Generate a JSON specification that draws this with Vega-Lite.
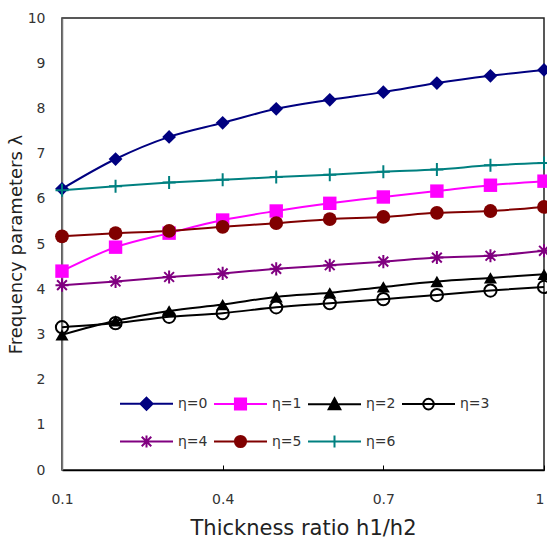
{
  "$schema": "https://vega.github.io/schema/vega-lite/v6.json",
  "width": 482,
  "height": 452,
  "autosize": {"type": "none"},
  "padding": {"left": 62, "top": 18, "right": 3, "bottom": 71},
  "background": "white",
  "config": {
    "font": "DejaVu Sans",
    "view": {"stroke": "#222", "strokeWidth": 1.5},
    "axis": {"grid": false, "labelFont": "DejaVu Sans", "titleFont": "DejaVu Sans", "labelColor": "#333", "titleColor": "#222", "labelFontSize": 14, "titleFontWeight": "normal", "labelFlush": false}
  },
  "data": {"values": [
    {"x": 0.1, "eta": "η=0", "y": 6.22}, {"x": 0.2, "eta": "η=0", "y": 6.88}, {"x": 0.3, "eta": "η=0", "y": 7.37}, {"x": 0.4, "eta": "η=0", "y": 7.68}, {"x": 0.5, "eta": "η=0", "y": 7.99}, {"x": 0.6, "eta": "η=0", "y": 8.19}, {"x": 0.7, "eta": "η=0", "y": 8.36}, {"x": 0.8, "eta": "η=0", "y": 8.56}, {"x": 0.9, "eta": "η=0", "y": 8.72}, {"x": 1.0, "eta": "η=0", "y": 8.85},
    {"x": 0.1, "eta": "η=1", "y": 4.40}, {"x": 0.2, "eta": "η=1", "y": 4.93}, {"x": 0.3, "eta": "η=1", "y": 5.24}, {"x": 0.4, "eta": "η=1", "y": 5.53}, {"x": 0.5, "eta": "η=1", "y": 5.73}, {"x": 0.6, "eta": "η=1", "y": 5.90}, {"x": 0.7, "eta": "η=1", "y": 6.04}, {"x": 0.8, "eta": "η=1", "y": 6.17}, {"x": 0.9, "eta": "η=1", "y": 6.30}, {"x": 1.0, "eta": "η=1", "y": 6.39},
    {"x": 0.1, "eta": "η=2", "y": 2.99}, {"x": 0.2, "eta": "η=2", "y": 3.30}, {"x": 0.3, "eta": "η=2", "y": 3.52}, {"x": 0.4, "eta": "η=2", "y": 3.66}, {"x": 0.5, "eta": "η=2", "y": 3.83}, {"x": 0.6, "eta": "η=2", "y": 3.92}, {"x": 0.7, "eta": "η=2", "y": 4.05}, {"x": 0.8, "eta": "η=2", "y": 4.17}, {"x": 0.9, "eta": "η=2", "y": 4.25}, {"x": 1.0, "eta": "η=2", "y": 4.33},
    {"x": 0.1, "eta": "η=3", "y": 3.16}, {"x": 0.2, "eta": "η=3", "y": 3.25}, {"x": 0.3, "eta": "η=3", "y": 3.39}, {"x": 0.4, "eta": "η=3", "y": 3.47}, {"x": 0.5, "eta": "η=3", "y": 3.60}, {"x": 0.6, "eta": "η=3", "y": 3.69}, {"x": 0.7, "eta": "η=3", "y": 3.78}, {"x": 0.8, "eta": "η=3", "y": 3.87}, {"x": 0.9, "eta": "η=3", "y": 3.97}, {"x": 1.0, "eta": "η=3", "y": 4.05},
    {"x": 0.1, "eta": "η=4", "y": 4.09}, {"x": 0.2, "eta": "η=4", "y": 4.17}, {"x": 0.3, "eta": "η=4", "y": 4.27}, {"x": 0.4, "eta": "η=4", "y": 4.35}, {"x": 0.5, "eta": "η=4", "y": 4.45}, {"x": 0.6, "eta": "η=4", "y": 4.53}, {"x": 0.7, "eta": "η=4", "y": 4.61}, {"x": 0.8, "eta": "η=4", "y": 4.70}, {"x": 0.9, "eta": "η=4", "y": 4.74}, {"x": 1.0, "eta": "η=4", "y": 4.85},
    {"x": 0.1, "eta": "η=5", "y": 5.17}, {"x": 0.2, "eta": "η=5", "y": 5.24}, {"x": 0.3, "eta": "η=5", "y": 5.29}, {"x": 0.4, "eta": "η=5", "y": 5.38}, {"x": 0.5, "eta": "η=5", "y": 5.46}, {"x": 0.6, "eta": "η=5", "y": 5.55}, {"x": 0.7, "eta": "η=5", "y": 5.60}, {"x": 0.8, "eta": "η=5", "y": 5.69}, {"x": 0.9, "eta": "η=5", "y": 5.73}, {"x": 1.0, "eta": "η=5", "y": 5.82},
    {"x": 0.1, "eta": "η=6", "y": 6.19}, {"x": 0.2, "eta": "η=6", "y": 6.28}, {"x": 0.3, "eta": "η=6", "y": 6.36}, {"x": 0.4, "eta": "η=6", "y": 6.42}, {"x": 0.5, "eta": "η=6", "y": 6.48}, {"x": 0.6, "eta": "η=6", "y": 6.53}, {"x": 0.7, "eta": "η=6", "y": 6.60}, {"x": 0.8, "eta": "η=6", "y": 6.65}, {"x": 0.9, "eta": "η=6", "y": 6.74}, {"x": 1.0, "eta": "η=6", "y": 6.79}
  ]},
  "encoding": {
    "x": {"field": "x", "type": "quantitative", "scale": {"domain": [0.1, 1], "nice": false, "zero": false},
      "axis": {"title": "Thickness ratio h1/h2", "titleFontSize": 21, "values": [0.1, 0.4, 0.7, 1], "format": "~g", "labelAlign": {"expr": "datum.value == 1 ? 'right' : 'center'"}, "domainColor": "#000", "domainWidth": 1.5, "tickColor": "#000", "tickSize": -5, "labelPadding": 27, "titlePadding": 11}},
    "y": {"field": "y", "type": "quantitative", "scale": {"domain": [0, 10], "nice": false},
      "axis": {"title": "Frequency parameters λ", "titleFontSize": 18, "values": [0,1,2,3,4,5,6,7,8,9,10], "ticks": false, "domainColor": "#777", "domainWidth": 1.5, "labelPadding": 17, "titlePadding": 2}},
    "color": {"field": "eta", "type": "nominal", "legend": null,
      "scale": {"domain": ["η=0","η=1","η=2","η=3","η=4","η=5","η=6"], "range": ["#000080","#ff00ff","#000000","#000000","#800080","#800000","#008080"]}}
  },
  "layer": [
    {
      "mark": {"type": "line", "strokeWidth": 2, "interpolate": "monotone"},
      "encoding": {
        "color": {"field": "eta", "type": "nominal",
          "legend": {
            "orient": "none", "legendX": 57, "legendY": 358, "direction": "horizontal", "columns": 4, "title": null,
            "symbolSize": 2809, "symbolStrokeWidth": 2, "symbolOpacity": 1, "labelFontSize": 14, "labelColor": "#333", "labelFont": "DejaVu Sans", "labelOffset": 4, "columnPadding": 2, "rowPadding": -23,
            "symbolType": {"expr": "datum.value === 'η=0' ? 'M-1,0H1M0,-0.23L0.23,0L0,0.23L-0.23,0Z' : datum.value === 'η=1' ? 'M-1,0H1M-0.21,-0.21H0.21V0.21H-0.21Z' : datum.value === 'η=2' ? 'M-1,0H1M0,-0.23L0.22,0.18H-0.22Z' : datum.value === 'η=3' ? 'M-1,0H1M-0.2,0A0.2,0.2,0,1,0,0.2,0A0.2,0.2,0,1,0,-0.2,0ZM-0.2,0A0.2,0.2,0,1,1,0.2,0A0.2,0.2,0,1,1,-0.2,0Z' : datum.value === 'η=4' ? 'M-1,0H1M0,-0.23V0.23M-0.18,-0.18L0.18,0.18M-0.18,0.18L0.18,-0.18' : datum.value === 'η=5' ? 'M-1,0H1M-0.21,0A0.21,0.21,0,1,0,0.21,0A0.21,0.21,0,1,0,-0.21,0Z' : 'M-1,0H1M0,-0.23V0.23'"}
          }}
      }
    },
    {"transform": [{"filter": "datum.eta === 'η=0'"}], "mark": {"type": "point", "shape": "diamond", "filled": true, "opacity": 1, "size": 190}},
    {"transform": [{"filter": "datum.eta === 'η=1'"}], "mark": {"type": "point", "shape": "square", "filled": true, "opacity": 1, "size": 180}},
    {"transform": [{"filter": "datum.eta === 'η=2'"}], "mark": {"type": "point", "shape": "triangle-up", "filled": true, "opacity": 1, "size": 170}},
    {"transform": [{"filter": "datum.eta === 'η=5'"}], "mark": {"type": "point", "shape": "circle", "filled": true, "opacity": 1, "size": 190}},
    {"transform": [{"filter": "datum.eta === 'η=3'"}], "mark": {"type": "point", "shape": "circle", "filled": false, "opacity": 1, "size": 150, "strokeWidth": 2}},
    {"transform": [{"filter": "datum.eta === 'η=4'"}], "mark": {"type": "point", "shape": "M-1,0H1M0,-1V1M-0.75,-0.75L0.75,0.75M-0.75,0.75L0.75,-0.75", "filled": false, "opacity": 1, "size": 170, "strokeWidth": 2}},
    {"transform": [{"filter": "datum.eta === 'η=6'"}], "mark": {"type": "point", "shape": "M-1,0H1M0,-1V1", "filled": false, "opacity": 1, "size": 170, "strokeWidth": 2}}
  ]
}
